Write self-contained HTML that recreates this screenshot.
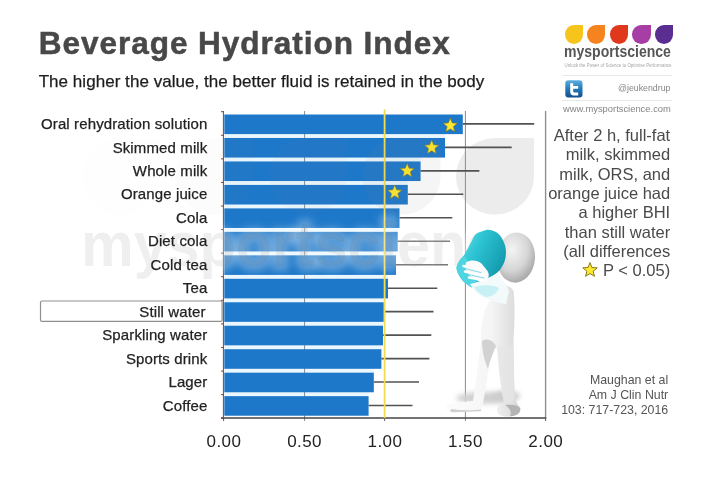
<!DOCTYPE html>
<html><head><meta charset="utf-8"><title>Beverage Hydration Index</title>
<style>
html,body{margin:0;padding:0;background:#fff;}
body{width:720px;height:477px;position:relative;overflow:hidden;font-family:"Liberation Sans",Arial,sans-serif;}
.g{position:absolute;left:0;top:0;}
.t{position:absolute;white-space:nowrap;line-height:1;}
.title{left:38.8px;top:28.1px;font-size:31.6px;font-weight:bold;color:#484848;letter-spacing:0.92px;-webkit-text-stroke:0.5px #484848;}
.sub{left:38.7px;top:73px;font-size:17px;color:#1c1c1c;letter-spacing:0.04px;-webkit-text-stroke:0.25px #1c1c1c;}
.lab{right:512.6px;font-size:15px;color:#222;text-align:right;letter-spacing:0.12px;-webkit-text-stroke:0.25px #222;}
.ax{font-size:17px;color:#222;width:60px;text-align:center;top:432.5px;letter-spacing:0.45px;}
.note{right:49.8px;top:126px;font-size:16.5px;line-height:19.35px;color:#4a4a4a;text-align:right;white-space:nowrap;}
.cite{right:51.8px;top:372.7px;font-size:12.35px;line-height:15.3px;color:#555;text-align:right;}
.wm{left:80px;top:223px;font-size:57px;font-weight:bold;color:rgba(205,205,205,0.32);letter-spacing:0.9px;}
.brand{left:564.2px;top:43.4px;font-size:17px;font-weight:bold;color:#555;transform:scaleX(0.826);transform-origin:0 0;}
.tag{left:564.5px;top:63.6px;font-size:4.45px;color:#a5a5a5;}
.tw{left:618px;top:84.2px;font-size:8.8px;color:#858585;}
.www{left:563px;top:103.7px;font-size:9.4px;color:#858585;}
.drop{position:absolute;top:24.8px;width:18.4px;height:19px;border-radius:50% 0 50% 50%;}
.hr{position:absolute;left:562px;width:110px;height:1px;background:#e9e9e9;}
#w{position:absolute;left:0;top:0;width:720px;height:477px;overflow:hidden;filter:blur(0.45px);}
</style></head><body><div id="w">

<svg class="g" width="720" height="477" viewBox="0 0 720 477">
<defs>
<radialGradient id="hd" cx="0.38" cy="0.35" r="0.75"><stop offset="0" stop-color="#f4f4f4"/><stop offset="0.55" stop-color="#d6d6d6"/><stop offset="1" stop-color="#9c9c9c"/></radialGradient>
<linearGradient id="cp" x1="0" y1="0" x2="1" y2="0.6"><stop offset="0" stop-color="#6fe3ec"/><stop offset="0.45" stop-color="#2cc3d3"/><stop offset="1" stop-color="#1397ab"/></linearGradient>
<linearGradient id="bd" x1="0" y1="0" x2="1" y2="0"><stop offset="0" stop-color="#fcfcfc"/><stop offset="0.6" stop-color="#f5f5f5"/><stop offset="1" stop-color="#d6d6d6"/></linearGradient>
<linearGradient id="bd2" x1="0" y1="0" x2="1" y2="0"><stop offset="0" stop-color="#f3f3f3"/><stop offset="0.6" stop-color="#fafafa"/><stop offset="1" stop-color="#dedede"/></linearGradient>
<filter id="bl" x="-20%" y="-20%" width="140%" height="140%"><feGaussianBlur stdDeviation="0.6"/></filter>
<filter id="bl2" x="-30%" y="-60%" width="160%" height="220%"><feGaussianBlur stdDeviation="2.5"/></filter>
<filter id="bl3" x="-5%" y="-40%" width="110%" height="180%"><feGaussianBlur stdDeviation="3"/></filter>
</defs>
<path d="M495 138 H534 V176.3 A39 38.3 0 1 1 495 138 Z" fill="#808080" fill-opacity="0.15"/>
<rect x="224.3" y="133.80" width="220.70" height="4.47" fill="#ebf7fe"/>
<rect x="224.3" y="157.27" width="196.30" height="4.47" fill="#ebf7fe"/>
<rect x="224.3" y="180.74" width="183.50" height="4.47" fill="#ebf7fe"/>
<rect x="224.3" y="204.21" width="175.20" height="4.47" fill="#ebf7fe"/>
<rect x="224.3" y="227.68" width="173.40" height="4.47" fill="#ebf7fe"/>
<rect x="224.3" y="251.15" width="171.70" height="4.47" fill="#ebf7fe"/>
<rect x="224.3" y="274.62" width="163.70" height="4.47" fill="#ebf7fe"/>
<rect x="224.3" y="298.09" width="159.50" height="4.47" fill="#ebf7fe"/>
<rect x="224.3" y="321.56" width="158.70" height="4.47" fill="#ebf7fe"/>
<rect x="224.3" y="345.03" width="157.10" height="4.47" fill="#ebf7fe"/>
<rect x="224.3" y="368.50" width="149.50" height="4.47" fill="#ebf7fe"/>
<rect x="224.3" y="391.97" width="144.30" height="4.47" fill="#ebf7fe"/>
<line x1="304.6" y1="111" x2="304.6" y2="421" stroke="#8a8a8a" stroke-width="1"/>
<line x1="465.4" y1="111" x2="465.4" y2="421" stroke="#8a8a8a" stroke-width="1"/>
<line x1="545.6" y1="111" x2="545.6" y2="418" stroke="#8f8f8f" stroke-width="1.4"/>
<rect x="224.3" y="114.50" width="238.50" height="19.6" fill="#1e78c9"/>
<rect x="224.3" y="137.97" width="220.70" height="19.6" fill="#1e78c9"/>
<rect x="224.3" y="161.44" width="196.30" height="19.6" fill="#1e78c9"/>
<rect x="224.3" y="184.91" width="183.50" height="19.6" fill="#1e78c9"/>
<rect x="224.3" y="208.38" width="175.20" height="19.6" fill="#1e78c9"/>
<rect x="224.3" y="231.85" width="173.40" height="19.6" fill="#1e78c9"/>
<rect x="224.3" y="255.32" width="171.70" height="19.6" fill="#1e78c9"/>
<rect x="224.3" y="278.79" width="163.70" height="19.6" fill="#1e78c9"/>
<rect x="224.3" y="302.26" width="159.50" height="19.6" fill="#1e78c9"/>
<rect x="224.3" y="325.73" width="158.70" height="19.6" fill="#1e78c9"/>
<rect x="224.3" y="349.20" width="157.10" height="19.6" fill="#1e78c9"/>
<rect x="224.3" y="372.67" width="149.50" height="19.6" fill="#1e78c9"/>
<rect x="224.3" y="396.14" width="144.30" height="19.6" fill="#1e78c9"/>
<line x1="462.8" y1="123.90" x2="534.2" y2="123.90" stroke="#525252" stroke-width="1.6"/>
<line x1="445" y1="147.37" x2="511.7" y2="147.37" stroke="#525252" stroke-width="1.6"/>
<line x1="420.6" y1="170.84" x2="479.4" y2="170.84" stroke="#525252" stroke-width="1.6"/>
<line x1="407.8" y1="194.31" x2="463.3" y2="194.31" stroke="#525252" stroke-width="1.6"/>
<line x1="399.5" y1="217.78" x2="452.3" y2="217.78" stroke="#525252" stroke-width="1.6"/>
<line x1="397.7" y1="241.25" x2="450" y2="241.25" stroke="#525252" stroke-width="1.6"/>
<line x1="396" y1="264.72" x2="448" y2="264.72" stroke="#525252" stroke-width="1.6"/>
<line x1="388" y1="288.19" x2="437.3" y2="288.19" stroke="#525252" stroke-width="1.6"/>
<line x1="383.8" y1="311.66" x2="433.5" y2="311.66" stroke="#525252" stroke-width="1.6"/>
<line x1="383" y1="335.13" x2="431.3" y2="335.13" stroke="#525252" stroke-width="1.6"/>
<line x1="381.4" y1="358.60" x2="429.4" y2="358.60" stroke="#525252" stroke-width="1.6"/>
<line x1="373.8" y1="382.07" x2="419" y2="382.07" stroke="#525252" stroke-width="1.6"/>
<line x1="368.6" y1="405.54" x2="412.5" y2="405.54" stroke="#525252" stroke-width="1.6"/>
<line x1="223.4" y1="111" x2="223.4" y2="418.5" stroke="#6b4a3a" stroke-width="1"/>
<line x1="221" y1="418" x2="546.3" y2="418" stroke="#444" stroke-width="1.4"/><line x1="545.6" y1="418" x2="545.6" y2="421" stroke="#555" stroke-width="1"/><line x1="223.6" y1="418" x2="223.6" y2="421" stroke="#555" stroke-width="1"/>
<line x1="221" y1="111.70" x2="224" y2="111.70" stroke="#7a4a3a" stroke-width="1"/>
<line x1="221" y1="135.28" x2="224" y2="135.28" stroke="#7a4a3a" stroke-width="1"/>
<line x1="221" y1="158.86" x2="224" y2="158.86" stroke="#7a4a3a" stroke-width="1"/>
<line x1="221" y1="182.44" x2="224" y2="182.44" stroke="#7a4a3a" stroke-width="1"/>
<line x1="221" y1="206.02" x2="224" y2="206.02" stroke="#7a4a3a" stroke-width="1"/>
<line x1="221" y1="229.60" x2="224" y2="229.60" stroke="#7a4a3a" stroke-width="1"/>
<line x1="221" y1="253.18" x2="224" y2="253.18" stroke="#7a4a3a" stroke-width="1"/>
<line x1="221" y1="276.76" x2="224" y2="276.76" stroke="#7a4a3a" stroke-width="1"/>
<line x1="221" y1="300.34" x2="224" y2="300.34" stroke="#7a4a3a" stroke-width="1"/>
<line x1="221" y1="323.92" x2="224" y2="323.92" stroke="#7a4a3a" stroke-width="1"/>
<line x1="221" y1="347.50" x2="224" y2="347.50" stroke="#7a4a3a" stroke-width="1"/>
<line x1="221" y1="371.08" x2="224" y2="371.08" stroke="#7a4a3a" stroke-width="1"/>
<line x1="221" y1="394.66" x2="224" y2="394.66" stroke="#7a4a3a" stroke-width="1"/>
<line x1="221" y1="418.24" x2="224" y2="418.24" stroke="#7a4a3a" stroke-width="1"/>
<line x1="384.6" y1="418" x2="384.6" y2="421" stroke="#666" stroke-width="1"/>
<line x1="384.6" y1="109.5" x2="384.6" y2="418" stroke="#f3dc4e" stroke-width="1.8"/>
<polygon points="450.30,118.20 452.24,122.93 457.34,123.31 453.44,126.62 454.65,131.59 450.30,128.90 445.95,131.59 447.16,126.62 443.26,123.31 448.36,122.93" fill="#ffe92e" stroke="#8a7a1a" stroke-width="0.6" stroke-linejoin="round"/>
<polygon points="431.70,140.10 433.64,144.83 438.74,145.21 434.84,148.52 436.05,153.49 431.70,150.80 427.35,153.49 428.56,148.52 424.66,145.21 429.76,144.83" fill="#ffe92e" stroke="#8a7a1a" stroke-width="0.6" stroke-linejoin="round"/>
<polygon points="407.20,163.40 409.14,168.13 414.24,168.51 410.34,171.82 411.55,176.79 407.20,174.10 402.85,176.79 404.06,171.82 400.16,168.51 405.26,168.13" fill="#ffe92e" stroke="#8a7a1a" stroke-width="0.6" stroke-linejoin="round"/>
<polygon points="394.70,185.10 396.64,189.83 401.74,190.21 397.84,193.52 399.05,198.49 394.70,195.80 390.35,198.49 391.56,193.52 387.66,190.21 392.76,189.83" fill="#ffe92e" stroke="#8a7a1a" stroke-width="0.6" stroke-linejoin="round"/>
<polygon points="590.00,262.60 591.94,267.53 597.23,267.85 593.14,271.22 594.47,276.35 590.00,273.50 585.53,276.35 586.86,271.22 582.77,267.85 588.06,267.53" fill="#ffe92e" stroke="#7a6a10" stroke-width="0.9" stroke-linejoin="round"/>
<rect x="40.5" y="301" width="181.6" height="20.4" rx="1.5" fill="none" stroke="#8f8f8f" stroke-width="1.2"/>
<path d="M121 138 H160 V176.3 A39 38.3 0 1 1 121 138 Z" fill="#808080" fill-opacity="0.012"/>
<path d="M214.5 138 H253.5 V176.3 A39 38.3 0 1 1 214.5 138 Z" fill="#808080" fill-opacity="0.025"/>
<path d="M308 138 H347 V176.3 A39 38.3 0 1 1 308 138 Z" fill="#808080" fill-opacity="0.045"/>
<path d="M401.5 138 H440.5 V176.3 A39 38.3 0 1 1 401.5 138 Z" fill="#808080" fill-opacity="0.08"/>
<text x="81" y="266" font-family="Liberation Sans, Arial, sans-serif" font-weight="bold" font-size="63" textLength="451" lengthAdjust="spacingAndGlyphs" fill="#fff" fill-opacity="0.2" stroke="#fff" stroke-width="13" stroke-opacity="0.2" stroke-linejoin="round" filter="url(#bl3)">mysportscience</text>
<text x="81" y="266" font-family="Liberation Sans, Arial, sans-serif" font-weight="bold" font-size="63" textLength="451" lengthAdjust="spacingAndGlyphs" fill="#505050" fill-opacity="0.09">mysportscience</text>
<g filter="url(#bl)">
<ellipse cx="486" cy="398" rx="30" ry="6" fill="#d0d0d0" filter="url(#bl2)"/>
<ellipse cx="506" cy="396" rx="14" ry="5" fill="#cccccc" filter="url(#bl2)"/>
<!-- body -->
<path d="M499 287 C493 295 486 305 483.6 315 C481.5 324 481 332 481 339 C480.5 346 479.8 351 479 356 C478 364 477 372 476 380 C475 388 474 395 473 401 L452 403 C447 404 445.5 406 446 408 C446.5 411 449 412 453 412 L481 411 C482.5 407 483.3 402 484 398 C485.5 389 487 380 488 372 C489.5 363 491.5 356 494 350 L497 347 C497.8 355 498.4 362 499 370 C500 378 501 385 502 392 L504 403 C499 404.5 496.5 407 497 410.5 C497.6 414.5 501 416.3 506 416.5 C512 416.6 516.5 415.8 518.5 414 C520.5 412 521 409.5 520 407 C517 404 515.5 400.5 515 397 C514.3 389 514 380 514 372 L513.5 340 C514.2 330 514.6 320 514.5 310 C514.4 303 514.2 297 513.8 292 C512 286 504 284 499 287 Z" fill="url(#bd)"/>
<path d="M482 341 C485 338 493 339 496 346 C493 353 490 360 488 369 C485 362 482 352 482 341 Z" fill="#d2d2d2" filter="url(#bl)"/>
<path d="M497 347 L499 370 L502 392 L504 403 C508 404 512 404 515 397 L514 372 L513.5 345 Z" fill="#e6e6e6" opacity="0.7"/>
<path d="M505 405 C512 404 518 405 520 408 C521 412 518 415.5 510 416.3 C512 412 510 408 505 405 Z" fill="#b4b4b4" filter="url(#bl)"/>
<path d="M452 409 C460 410.5 472 410.5 481 409.5 L481 411.3 L453 412.3 C450 412 449 410.5 452 409 Z" fill="#d0d0d0"/>
<!-- head -->
<ellipse cx="516" cy="257.7" rx="19" ry="25" fill="url(#hd)" transform="rotate(5 516 257.7)"/>
<!-- cup -->
<path d="M472.3 239.9 C474 235 477 232.5 481.7 231.5 C486 229.6 489 229.4 492.2 230.5 C497 232 500 234.5 501.6 237.8 C504 242 505.5 245.5 505.8 249.4 C506.2 254 505.8 257.5 504.7 260.9 C503 266 500.5 269.5 497.4 272.4 L484.8 282.9 C482 286 479.5 287.5 476.4 288.1 C473 288.3 470 287 468 285 C463.5 282 460.5 278.5 458.6 274.5 C457.3 272 456.6 269.8 456.5 267.2 C457.8 262.5 460.5 258.8 463.9 255.6 Z" fill="url(#cp)"/>
<path d="M463.9 255.6 C460.5 258.8 457.8 262.5 456.5 267.2 C456.6 269.8 457.3 272 458.6 274.5 C460.5 278.5 463.5 282 468 285 C470 287 473 288.3 476.4 288.1 C478 283 474 268 463.9 255.6 Z" fill="#4fd4e1"/>
<!-- forearm with cyan tint -->
<path d="M470 284 C478 282 490 278 497 273 C502 278 506 284 509 291 L506 304 C498 303 488 300 482 297 C477 294 473 290 470 284 Z" fill="#f3fafb"/>
<path d="M474 287 C482 285 492 284 499 288 C497 293 492 297 486 297 C481 295 477 292 474 287 Z" fill="#c6f0f4" filter="url(#bl)"/>
<!-- hand -->
<path d="M466 262.5 C471 259.5 477 260 481.5 263.5 L487.5 271 C489.5 274.5 489 278 486.5 280 L480 281.5 C474 280 469 276 466.5 271 C465.3 268 465.2 265 466 262.5 Z" fill="#fbfbfb"/>
<path d="M463.5 266 L480 270 M465 271.5 L483.5 275.5 M469 277.5 L486 280.5" stroke="#fdfdfd" stroke-width="2.6" fill="none" stroke-linecap="round"/>
<path d="M466 268.8 L481 272.6 M468 274.4 L484 278" stroke="#6fd3de" stroke-width="0.9" fill="none" stroke-linecap="round"/>
</g>
</svg>
<div class="t title">Beverage Hydration Index</div>
<div class="t sub">The higher the value, the better fluid is retained in the body</div>
<div class="t lab" style="top:116.0px">Oral rehydration solution</div>
<div class="t lab" style="top:139.5px">Skimmed milk</div>
<div class="t lab" style="top:162.9px">Whole milk</div>
<div class="t lab" style="top:186.4px">Orange juice</div>
<div class="t lab" style="top:209.9px">Cola</div>
<div class="t lab" style="top:233.3px">Diet cola</div>
<div class="t lab" style="top:256.8px">Cold tea</div>
<div class="t lab" style="top:280.3px">Tea</div>
<div class="t lab" style="top:303.8px;right:514.4px">Still water</div>
<div class="t lab" style="top:327.2px">Sparkling water</div>
<div class="t lab" style="top:350.7px">Sports drink</div>
<div class="t lab" style="top:374.2px">Lager</div>
<div class="t lab" style="top:397.6px">Coffee</div>
<div class="t ax" style="left:194.0px">0.00</div>
<div class="t ax" style="left:274.6px">0.50</div>
<div class="t ax" style="left:355.0px">1.00</div>
<div class="t ax" style="left:435.4px">1.50</div>
<div class="t ax" style="left:515.8px">2.00</div>
<div class="t note">After 2 h, full-fat<br>milk, skimmed<br>milk, ORS, and<br>orange juice had<br>a higher BHI<br>than still water<br>(all differences<br>P &lt; 0.05)</div>
<div class="t cite">Maughan et al<br>Am J Clin Nutr<br>103: 717-723, 2016</div>
<div class="drop" style="left:564.6px;background:#f6c51c"></div>
<div class="drop" style="left:587.1px;background:#f5841f"></div>
<div class="drop" style="left:609.7px;background:#e0381c"></div>
<div class="drop" style="left:632.2px;background:#a63ea6"></div>
<div class="drop" style="left:654.8px;background:#5a2d90"></div>
<div class="t brand">mysportscience</div>
<div class="t tag">Unlock the Power of Science to Optimise Performance</div>
<div class="hr" style="top:75px"></div>
<svg class="g" style="left:565px;top:80px" width="18" height="18" viewBox="0 0 18 18"><defs><linearGradient id="tg" x1="0" y1="0" x2="0" y2="1"><stop offset="0" stop-color="#5fb0e0"/><stop offset="0.5" stop-color="#2278b8"/><stop offset="1" stop-color="#134f8c"/></linearGradient></defs><rect x="0.3" y="0.3" width="17.2" height="17.2" rx="3" fill="url(#tg)"/><path d="M5.2 3.2 h3 v2.8 h5 v2.8 h-5 v2.4 q0 1.4 1.4 1.4 h3.6 v2.8 h-4.4 q-3.6 0 -3.6 -3.6 z" fill="#fff"/></svg>
<div class="t tw">@jeukendrup</div>
<div class="hr" style="top:99.5px"></div>
<div class="t www">www.mysportscience.com</div>
</div></body></html>
